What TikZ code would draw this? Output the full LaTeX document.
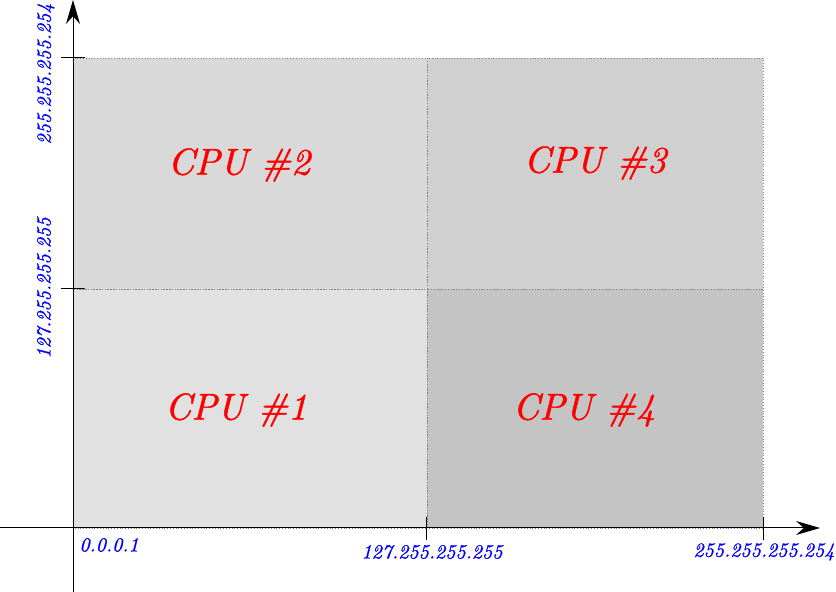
\documentclass[tikz,border=0pt]{standalone}
\usepackage{fontspec}
\usetikzlibrary{arrows.meta}
\definecolor{cpuA}{RGB}{225,225,225}
\definecolor{cpuB}{RGB}{217,217,217}
\definecolor{cpuC}{RGB}{208,208,208}
\definecolor{cpuD}{RGB}{196,196,196}
\newfontface\cpufont{lmroman10-italic.otf}[FakeBold=1.3]
\newfontface\adrfont{lmroman10-italic.otf}[FakeBold=1.0]
\begin{document}
\begin{tikzpicture}[x=0.5pt,y=-0.5pt,
  region/.style={draw=gray,densely dotted,line width=0.4pt},
  cpulabel/.style={text=red,font=\cpufont\fontsize{18.6}{22}\selectfont,inner sep=0pt},
  addr/.style={text=blue,font=\adrfont\fontsize{10}{12}\selectfont,inner sep=1pt},
  axis/.style={line width=0.5pt,-{Stealth[length=12pt,width=7pt]}},
  tick/.style={line width=0.5pt}]
\useasboundingbox (0,0) rectangle (836,592);
% regions
\fill[cpuA] (73,289) rectangle (427,528);
\fill[cpuB] (73,58) rectangle (427,289);
\fill[cpuC] (427,58) rectangle (763,289);
\fill[cpuD] (427,289) rectangle (763,528);
\draw[region] (73,289) rectangle (427,528);
\draw[region] (73,58) rectangle (427,289);
\draw[region] (427,58) rectangle (763,289);
\draw[region] (427,289) rectangle (763,528);
% labels
\node[cpulabel] (c1) at (236,410) {CPU \#1};
\node[cpulabel] (c2) at (239,165) {CPU \#2};
\node[cpulabel] (c3) at (595,163) {CPU \#3};
\node[cpulabel] (c4) at (584,410) {CPU \#4};
% axes
\coordinate (xs) at (0,528);
\coordinate (xe) at (820,528);
\coordinate (ys) at (73,592);
\coordinate (ye) at (73,0);
\draw[axis] (xs) -- (xe);
\draw[axis] (ys) -- (ye);
% ticks
\draw[tick] (426,517) -- (426,540);
\draw[tick] (763,517) -- (763,540);
\draw[tick] (61,58) -- (85,58);
\draw[tick] (61,289) -- (85,289);
% address labels
\node[addr,anchor=west] (a0) at (77,545) {0.0.0.1};
\node[addr] (a1) at (432,552) {127.255.255.255};
\node[addr] (a2) at (764,552) {255.255.255.254};
\node[addr,rotate=90] (a3) at (46,74) {255.255.255.254};
\node[addr,rotate=90] (a4) at (44,288) {127.255.255.255};
\end{tikzpicture}
\end{document}
